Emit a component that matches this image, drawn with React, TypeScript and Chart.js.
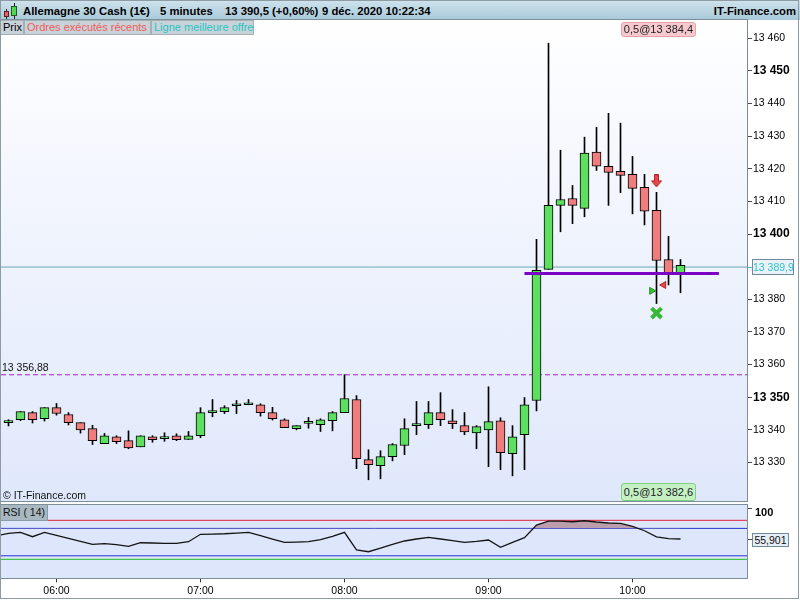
import React, { useEffect, useRef } from 'react';
import { Chart, registerables } from 'chart.js';

Chart.register(...registerables);

const FONT = "'Liberation Sans', Arial, sans-serif";

// ---- data ----
const times = ['05:40','05:45','05:50','05:55','06:00','06:05','06:10','06:15','06:20','06:25','06:30','06:35','06:40','06:45','06:50','06:55','07:00','07:05','07:10','07:15','07:20','07:25','07:30','07:35','07:40','07:45','07:50','07:55','08:00','08:05','08:10','08:15','08:20','08:25','08:30','08:35','08:40','08:45','08:50','08:55','09:00','09:05','09:10','09:15','09:20','09:25','09:30','09:35','09:40','09:45','09:50','09:55','10:00','10:05','10:10','10:15','10:20'];

const opens = [13342.2, 13343.1, 13345.3, 13343.4, 13346.8, 13344.7, 13342.2, 13340.4, 13335.8, 13337.9, 13336.7, 13334.8, 13337.9, 13337.3, 13338.2, 13337.1, 13338.2, 13345.3, 13345.6, 13347.4, 13347.7, 13347.7, 13345.3, 13343.1, 13340.4, 13342.0, 13341.6, 13342.8, 13345.3, 13349.3, 13330.9, 13329.0, 13331.8, 13335.2, 13341.3, 13341.6, 13345.3, 13342.8, 13341.3, 13339.1, 13340.0, 13342.8, 13332.7, 13338.5, 13349.0, 13389.2, 13408.8, 13410.9, 13407.9, 13425.1, 13420.8, 13419.2, 13418.3, 13414.3, 13407.3, 13392.2, 13387.9];
const highs = [13343.1, 13345.6, 13345.6, 13346.8, 13348.1, 13345.3, 13342.2, 13341.4, 13338.9, 13338.2, 13339.7, 13338.2, 13338.2, 13339.1, 13338.8, 13339.5, 13346.8, 13349.3, 13347.4, 13349.0, 13349.3, 13348.0, 13346.9, 13343.4, 13341.3, 13343.8, 13343.4, 13345.6, 13356.9, 13350.5, 13333.9, 13333.6, 13335.8, 13343.4, 13348.7, 13348.7, 13351.4, 13346.2, 13345.3, 13341.3, 13353.2, 13343.7, 13341.3, 13349.9, 13398.4, 13458.5, 13425.7, 13414.9, 13429.7, 13432.7, 13437.0, 13434.0, 13423.8, 13418.3, 13412.8, 13399.3, 13392.2];
const lows = [13341.2, 13342.8, 13342.1, 13342.7, 13344.5, 13341.5, 13339.0, 13335.5, 13335.8, 13335.8, 13334.2, 13334.8, 13336.2, 13336.5, 13336.7, 13337.1, 13337.6, 13344.0, 13345.0, 13345.0, 13347.7, 13344.2, 13343.0, 13340.7, 13340.0, 13340.5, 13339.5, 13339.7, 13345.3, 13328.1, 13324.7, 13325.0, 13330.5, 13332.4, 13338.5, 13340.4, 13341.3, 13340.4, 13338.5, 13334.2, 13328.7, 13327.8, 13325.9, 13327.8, 13345.8, 13389.2, 13400.7, 13403.2, 13405.3, 13419.5, 13408.8, 13412.7, 13406.2, 13402.8, 13378.7, 13384.4, 13382.0];
const closes = [13342.8, 13345.6, 13343.1, 13346.8, 13345.0, 13342.2, 13340.0, 13336.7, 13338.2, 13336.4, 13334.5, 13338.2, 13337.0, 13337.3, 13337.0, 13338.2, 13345.3, 13345.9, 13346.8, 13347.4, 13348.0, 13345.3, 13343.4, 13340.7, 13341.3, 13342.0, 13343.1, 13345.3, 13349.6, 13331.2, 13329.3, 13331.8, 13335.5, 13340.4, 13341.3, 13345.3, 13343.1, 13341.9, 13339.4, 13341.0, 13342.5, 13333.0, 13337.9, 13347.7, 13388.9, 13408.8, 13410.6, 13408.8, 13424.8, 13420.8, 13418.9, 13418.0, 13414.0, 13407.0, 13391.9, 13387.9, 13390.4];

const rsi = [64.0, 65.4, 59.2, 65.4, 61.2, 56.9, 52.6, 48.4, 49.2, 47.8, 45.5, 50.6, 50.2, 49.8, 49.8, 52.1, 62.6, 63.0, 63.4, 64.4, 65.4, 60.6, 55.9, 51.2, 51.6, 52.1, 54.9, 59.7, 65.4, 40.3, 37.8, 43.1, 48.4, 53.1, 55.9, 58.3, 55.9, 53.5, 51.2, 52.6, 54.5, 44.1, 51.2, 57.8, 75.8, 81.5, 81.5, 80.5, 81.9, 80.1, 78.7, 78.2, 74.0, 67.7, 59.0, 56.5, 55.9];
const rsiPrev = { time: '05:35', value: 60.6 };
const rsiLevels = [
  { value: 82.5, color: '#e3203c' },
  { value: 71, color: '#2434cc' },
  { value: 32, color: '#2434cc' },
  { value: 27, color: '#22c022' },
];
const rsiFillLevel = 71;
const rsiLast = 55.901;

const priceTicks = [13330, 13340, 13350, 13360, 13370, 13380, 13400, 13410, 13420, 13430, 13440, 13450, 13460];
const rsiTicks = [100, 55.9];
const hourTicks = ['06:00', '07:00', '08:00', '09:00', '10:00'];

const dashedLevel = 13356.88;
const bestOffer = 13389.9;
const support = { from: '09:15', to: '10:36', value: 13387.9 };
const buyExec = { time: '10:08', price: 13382.6 };
const sellExec = { time: '10:13', price: 13384.4 };
const signalArrow = { time: '10:10', price: 13416.3 };
const stopCross = { time: '10:10', price: 13375.8 };

// ---- scales ----
const X_MIN = 336.875;
const X_MAX = 648.125;
const PRICE_MIN = 13317.891;
const PRICE_MAX = 13465.608;
const RSI_MIN = 0;
const RSI_MAX = 105.3;

const toMin = (t: string) => {
  const [h, m] = t.split(':').map(Number);
  return h * 60 + m;
};
const fmtTime = (v: number) => {
  const h = Math.floor(v / 60);
  const m = Math.round(v - h * 60);
  return String(h).padStart(2, '0') + ':' + String(m).padStart(2, '0');
};
const fmtPrice = (v: number) => String(Math.round(v)).replace(/\B(?=(\d{3})+(?!\d))/g, ' ');

const GREEN = '#5fdf5f';
const RED = '#ef7d7d';

export default function App() {
  const mainRef = useRef<HTMLCanvasElement>(null);
  const rsiRef = useRef<HTMLCanvasElement>(null);

  useEffect(() => {
    const arrow = document.createElement('canvas');
    arrow.width = 11;
    arrow.height = 13;
    const g = arrow.getContext('2d')!;
    g.fillStyle = '#e64848';
    g.strokeStyle = '#b52020';
    g.lineWidth = 1;
    g.beginPath();
    g.moveTo(3.5, 0.5);
    g.lineTo(7.5, 0.5);
    g.lineTo(7.5, 6.5);
    g.lineTo(10.5, 6.5);
    g.lineTo(5.5, 12.5);
    g.lineTo(0.5, 6.5);
    g.lineTo(3.5, 6.5);
    g.closePath();
    g.fill();
    g.stroke();

    const xs = times.map(toMin);
    const hline = (v: number, a = X_MIN, b = X_MAX) => [{ x: a, y: v }, { x: b, y: v }];

    const main = new Chart(mainRef.current!, {
      type: 'bar',
      data: {
        datasets: [
          {
            type: 'line',
            label: 'buy',
            data: [{ x: toMin(buyExec.time), y: buyExec.price }],
            showLine: false,
            pointStyle: 'triangle',
            rotation: 90,
            pointRadius: 4,
            pointBackgroundColor: '#3cc03c',
            pointBorderColor: '#1f8f1f',
            pointBorderWidth: 1,
            order: 0,
          } as any,
          {
            type: 'line',
            label: 'sell',
            data: [{ x: toMin(sellExec.time), y: sellExec.price }],
            showLine: false,
            pointStyle: 'triangle',
            rotation: -90,
            pointRadius: 4,
            pointBackgroundColor: '#e64848',
            pointBorderColor: '#b52020',
            pointBorderWidth: 1,
            order: 0,
          } as any,
          {
            type: 'line',
            label: 'signal',
            data: [{ x: toMin(signalArrow.time), y: signalArrow.price }],
            showLine: false,
            pointStyle: arrow,
            pointRadius: 6,
            order: 0,
          } as any,
          {
            type: 'line',
            label: 'stop',
            data: [{ x: toMin(stopCross.time), y: stopCross.price }],
            showLine: false,
            pointStyle: 'crossRot',
            pointRadius: 7,
            pointBorderWidth: 4,
            pointBorderColor: '#35b835',
            order: 0,
          } as any,
          {
            type: 'line',
            label: 'support',
            data: hline(support.value, toMin(support.from), toMin(support.to)),
            borderColor: '#7a00c4',
            borderWidth: 3,
            pointRadius: 0,
            order: 1,
          } as any,
          {
            type: 'bar',
            label: 'body',
            data: xs.map((x, i) => ({ x, y: [Math.min(opens[i], closes[i]), Math.max(opens[i], closes[i])] })),
            backgroundColor: xs.map((_, i) => (closes[i] >= opens[i] ? GREEN : RED)),
            borderColor: '#000',
            borderWidth: 1,
            borderSkipped: false,
            barThickness: 9,
            minBarLength: 2,
            grouped: false,
            order: 2,
          } as any,
          {
            type: 'bar',
            label: 'wick',
            data: xs.map((x, i) => ({ x, y: [lows[i], highs[i]] })),
            backgroundColor: '#000',
            borderWidth: 0,
            barThickness: 1,
            grouped: false,
            order: 3,
          } as any,
          {
            type: 'line',
            label: 'best offer',
            data: hline(bestOffer),
            borderColor: '#6aaab2',
            borderWidth: 1,
            pointRadius: 0,
            order: 4,
          } as any,
          {
            type: 'line',
            label: 'level',
            data: hline(dashedLevel),
            borderColor: '#a020c4',
            borderWidth: 1,
            borderDash: [5, 3],
            pointRadius: 0,
            order: 5,
          } as any,
        ],
      },
      options: {
        responsive: false,
        animation: false,
        devicePixelRatio: 1,
        events: [],
        layout: { autoPadding: false, padding: { left: 1, top: 0, right: 0, bottom: 0 } },
        plugins: { legend: { display: false }, tooltip: { enabled: false } },
        scales: {
          x: {
            type: 'linear',
            min: X_MIN,
            max: X_MAX,
            display: false,
            offset: false,
            grid: { offset: false },
          },
          y: {
            type: 'linear',
            position: 'right',
            min: PRICE_MIN,
            max: PRICE_MAX,
            afterFit: (a: any) => {
              a.width = 52;
              a.paddingTop = 0;
              a.paddingBottom = 0;
            },
            afterBuildTicks: (a: any) => {
              a.ticks = priceTicks.map((v) => ({ value: v }));
            },
            grid: { drawOnChartArea: false, tickLength: 4, color: '#4a4a4a' },
            border: { display: false },
            ticks: {
              padding: 1,
              color: '#000',
              callback: (v: any) => fmtPrice(Number(v)),
              font: (c: any) =>
                c.tick && c.tick.value % 50 === 0
                  ? { family: FONT, size: 12, weight: 'bold' }
                  : { family: FONT, size: 10.5 },
            },
          },
        },
      } as any,
    });

    const rsiData = [{ x: toMin(rsiPrev.time), y: rsiPrev.value }, ...xs.map((x, i) => ({ x, y: rsi[i] }))];

    const rsiChart = new Chart(rsiRef.current!, {
      type: 'line',
      data: {
        datasets: [
          {
            label: 'RSI',
            data: rsiData,
            borderColor: '#141414',
            backgroundColor: '#bb9dab',
            borderWidth: 1.3,
            pointRadius: 0,
            tension: 0,
            fill: { target: { value: rsiFillLevel }, above: '#bb9dab', below: 'rgba(0,0,0,0)' },
            order: 0,
          } as any,
          ...rsiLevels.map((l, k) => ({
            label: 'level' + k,
            data: hline(l.value),
            borderColor: l.color,
            backgroundColor: 'rgba(0,0,0,0)',
            borderWidth: 1,
            pointRadius: 0,
            fill: false,
            order: 1,
          })),
        ],
      },
      options: {
        responsive: false,
        animation: false,
        devicePixelRatio: 1,
        events: [],
        layout: { autoPadding: false, padding: { top: 2.3, left: 1, right: 0, bottom: 0 } },
        plugins: { legend: { display: false }, tooltip: { enabled: false } },
        scales: {
          x: {
            type: 'linear',
            min: X_MIN,
            max: X_MAX,
            offset: false,
            afterFit: (a: any) => {
              a.height = 21.7;
              a.paddingLeft = 0;
              a.paddingRight = 0;
            },
            afterBuildTicks: (a: any) => {
              a.ticks = hourTicks.map((t) => ({ value: toMin(t) }));
            },
            grid: { drawOnChartArea: false, tickLength: 4, color: '#333' },
            border: { display: false },
            ticks: {
              padding: 3,
              color: '#000',
              maxRotation: 0,
              autoSkip: false,
              showLabelBackdrop: false,
              font: { family: FONT, size: 10.5 },
              callback: (v: any) => fmtTime(Number(v)),
            },
          },
          y: {
            type: 'linear',
            position: 'right',
            min: RSI_MIN,
            max: RSI_MAX,
            afterFit: (a: any) => {
              a.width = 52;
              a.paddingTop = 0;
              a.paddingBottom = 0;
            },
            afterBuildTicks: (a: any) => {
              a.ticks = rsiTicks.map((v) => ({ value: v }));
            },
            grid: { drawOnChartArea: false, tickLength: 4, color: '#4a4a4a' },
            border: { display: false },
            ticks: {
              padding: 3,
              labelOffset: 5,
              color: '#000',
              font: { family: FONT, size: 11, weight: 'bold' },
              callback: (v: any) => (Number(v) === 100 ? '100' : ''),
            },
          },
        },
      } as any,
    });

    return () => {
      main.destroy();
      rsiChart.destroy();
    };
  }, []);

  const abs = (s: React.CSSProperties): React.CSSProperties => ({ position: 'absolute', boxSizing: 'border-box', ...s });
  const txt: React.CSSProperties = { fontFamily: FONT, whiteSpace: 'nowrap' };

  return (
    <div style={{ position: 'fixed', left: 0, top: 0, width: 800, height: 600, background: '#fff', overflow: 'hidden', userSelect: 'none', ...txt }}>
      {/* header */}
      <div style={abs({ left: 0, top: 0, width: 800, height: 20, background: 'linear-gradient(to bottom, #cfe3ed, #a8c9d9)' })} />
      <div style={abs({ left: 5.7, top: 8.7, width: 1, height: 10, background: '#222' })} />
      <div style={abs({ left: 3.5, top: 10.7, width: 5, height: 6.3, background: '#e86262', border: '1px solid #5a2020' })} />
      <div style={abs({ left: 13.5, top: 2.7, width: 1, height: 16, background: '#222' })} />
      <div style={abs({ left: 11, top: 5.7, width: 5.5, height: 10, background: '#4fd84f', border: '1px solid #1f5a1f' })} />
      {[
        { l: 23, t: 'Allemagne 30 Cash (1€)' },
        { l: 160, t: '5 minutes' },
        { l: 225, t: '13 390,5 (+0,60%)' },
        { l: 322, t: '9 déc. 2020 10:22:34' },
      ].map((s) => (
        <div key={s.l} style={abs({ left: s.l, top: 1, height: 20, lineHeight: '20px', fontSize: 11.3, fontWeight: 'bold', color: '#000' })}>
          {s.t}
        </div>
      ))}
      <div style={abs({ right: 4, top: 1, height: 20, lineHeight: '20px', fontSize: 11.3, fontWeight: 'bold', color: '#000' })}>IT-Finance.com</div>

      {/* main panel */}
      <div style={abs({ left: 1, top: 20, width: 747, height: 482, background: 'linear-gradient(to bottom, #ffffff 0%, #f3f6fe 35%, #dfe8fb 100%)' })} />
      <canvas ref={mainRef} width={800} height={482} style={{ position: 'absolute', left: 0, top: 20, display: 'block' }} />
      <div style={abs({ left: 0, top: 19, width: 748, height: 483, border: '1px solid #7d8e99', pointerEvents: 'none' })} />

      {/* tabs */}
      <div style={abs({ left: 0, top: 20, width: 24, height: 15, background: '#c8d2d8', border: '1px solid #a2b0b8', fontSize: 11, lineHeight: '13px', paddingLeft: 2, color: '#000' })}>Prix</div>
      <div style={abs({ left: 24, top: 20, width: 127, height: 15, background: '#c8d2d8', border: '1px solid #a2b0b8', fontSize: 11, lineHeight: '13px', paddingLeft: 2, color: '#f05c58' })}>Ordres exécutés récents</div>
      <div style={abs({ left: 151, top: 20, width: 103, height: 15, background: '#c8d2d8', border: '1px solid #a2b0b8', fontSize: 11, lineHeight: '13px', paddingLeft: 2, color: '#26c6c6' })}>Ligne meilleure offre</div>

      {/* labels in main panel */}
      <div style={abs({ left: 2, top: 360, height: 14, lineHeight: '14px', fontSize: 10.5, color: '#111' })}>13 356,88</div>
      <div style={abs({ left: 3, top: 488, height: 14, lineHeight: '14px', fontSize: 10.5, color: '#111' })}>© IT-Finance.com</div>
      <div style={abs({ left: 621, top: 22, width: 75, height: 15, lineHeight: '13px', fontSize: 11, textAlign: 'center', background: '#f6c9cf', border: '1px solid #e6a2ab', borderRadius: 3, color: '#222' })}>0,5@13 384,4</div>
      <div style={abs({ left: 621, top: 483, width: 75, height: 18, lineHeight: '16px', fontSize: 11, textAlign: 'center', background: '#c4f0c4', border: '1px solid #80d080', borderRadius: 3, color: '#222' })}>0,5@13 382,6</div>
      <div style={abs({ left: 748, top: 267, width: 4, height: 1, background: '#4cc2c8' })} />
      <div style={abs({ left: 752, top: 259, width: 42, height: 16, lineHeight: '14px', fontSize: 10.5, textAlign: 'center', background: '#eaf1f8', border: '1px solid #6f8b9b', color: '#2cc4cc' })}>13 389,9</div>

      {/* RSI panel */}
      <div style={abs({ left: 0, top: 578, width: 800, height: 22, background: '#ffffff' })} />
      <div style={abs({ left: 1, top: 505, width: 746, height: 73, background: '#dde6fa' })} />
      <canvas ref={rsiRef} width={800} height={98} style={{ position: 'absolute', left: 0, top: 502, display: 'block', background: 'transparent' }} />
      <div style={abs({ left: 0, top: 504, width: 748, height: 75, border: '1px solid #7d8e99', pointerEvents: 'none' })} />
      <div style={abs({ left: 1, top: 505, width: 47, height: 16, lineHeight: '15px', fontSize: 10.5, paddingLeft: 2, background: '#a7b8c1', borderRight: '1px solid #8a9ba5', borderBottom: '1px solid #8a9ba5', color: '#111' })}>RSI ( 14)</div>
      <div style={abs({ left: 752, top: 533, width: 37, height: 14, lineHeight: '12px', fontSize: 10.5, textAlign: 'center', background: '#e6eef7', border: '1px solid #6f8b9b', color: '#111' })}>
        {String(rsiLast).replace('.', ',')}
      </div>

      {/* outer frame */}
      <div style={abs({ left: 0, top: 0, width: 799, height: 599, border: '1px solid #8c9ba4', pointerEvents: 'none' })} />
    </div>
  );
}
